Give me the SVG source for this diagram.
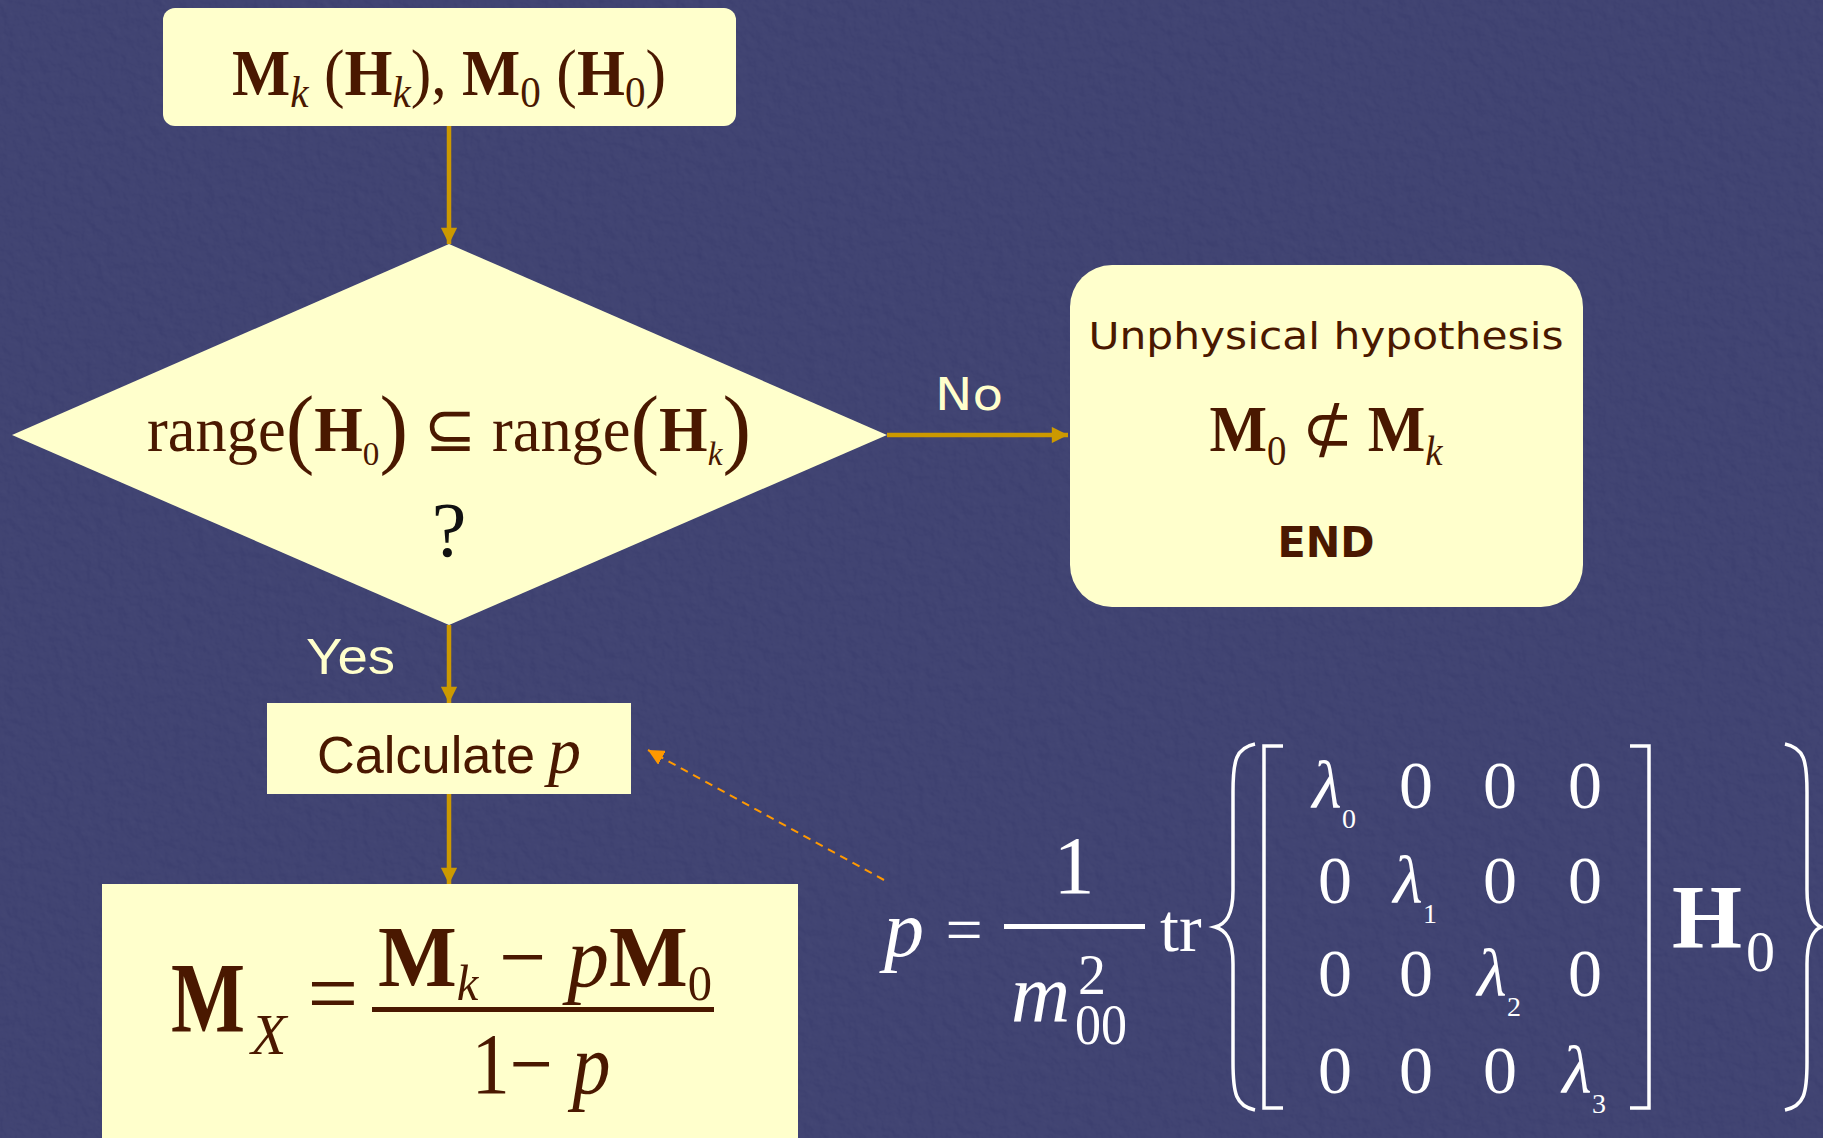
<svg xmlns="http://www.w3.org/2000/svg" width="1823" height="1138" viewBox="0 0 1823 1138">
<style>
.box{fill:#ffffcc}
.serif{font-family:"Liberation Serif","Times New Roman",serif}
.sans{font-family:"DejaVu Sans","Verdana",sans-serif}
.narrow{font-family:"Liberation Sans Narrow","Liberation Sans",Arial,sans-serif}
.ink{fill:#4a1800}
.wh{fill:#ffffff}
.cream{fill:#ffffcc}
.conn{stroke:#cc9900;stroke-width:4.5;fill:none}
.dash{stroke:#ff9900;stroke-width:2;stroke-dasharray:8 6;fill:none}
.delim{stroke:#ffffff;stroke-width:3.5;fill:none}
</style>
<defs>
<marker id="ah" viewBox="0 0 10 10" refX="10" refY="5" markerWidth="4.5" markerHeight="3.6" orient="auto" markerUnits="strokeWidth"><path d="M0,0 L10,5 L0,10 z" fill="#cc9900"/></marker>
<marker id="ah2" viewBox="0 0 10 10" refX="10" refY="5" markerWidth="8" markerHeight="8" orient="auto" markerUnits="strokeWidth"><path d="M0,0 L10,5 L0,10 z" fill="#ff9900"/></marker>
<filter id="tex" x="0" y="0" width="100%" height="100%">
<feTurbulence type="fractalNoise" baseFrequency="0.09" numOctaves="3" seed="7" result="n"/>
<feDiffuseLighting in="n" surfaceScale="1.6" lighting-color="#ffffff" result="l"><feDistantLight azimuth="135" elevation="55"/></feDiffuseLighting>
<feColorMatrix type="matrix" values="0 0 0 0 1  0 0 0 0 1  0 0 0 0 1  0.18 0 0 0 -0.08"/>
</filter>
</defs>
<rect width="1823" height="1138" fill="#3b3e6e"/>
<rect width="1823" height="1138" filter="url(#tex)" opacity="0.45"/>

<g id="connectors">
<line class="conn" x1="449" y1="126" x2="449" y2="244" marker-end="url(#ah)"/>
<line class="conn" x1="887" y1="435" x2="1068" y2="435" marker-end="url(#ah)"/>
<line class="conn" x1="449" y1="625" x2="449" y2="703" marker-end="url(#ah)"/>
<line class="conn" x1="449" y1="794" x2="449" y2="884" marker-end="url(#ah)"/>
<line class="dash" x1="884" y1="880" x2="648" y2="750" marker-end="url(#ah2)"/>
<text class="sans cream" x="969" y="410" font-size="44" text-anchor="middle" textLength="68" lengthAdjust="spacingAndGlyphs">No</text>
<text class="narrow cream" x="306" y="674" font-size="50" textLength="89" lengthAdjust="spacingAndGlyphs">Yes</text>
</g>

<g id="start">
<rect class="box" x="163" y="8" width="573" height="118" rx="12"/>
<text class="serif ink" x="449" y="95" font-size="66" text-anchor="middle" textLength="434" lengthAdjust="spacingAndGlyphs"><tspan font-weight="bold">M</tspan><tspan font-style="italic" font-size="44" dy="12">k</tspan><tspan dy="-12"> (</tspan><tspan font-weight="bold">H</tspan><tspan font-style="italic" font-size="44" dy="12">k</tspan><tspan dy="-12">), </tspan><tspan font-weight="bold">M</tspan><tspan font-size="44" dy="12">0</tspan><tspan dy="-12"> (</tspan><tspan font-weight="bold">H</tspan><tspan font-size="44" dy="12">0</tspan><tspan dy="-12">)</tspan></text>
</g>

<g id="decision">
<polygon class="box" points="449,244 887,435 449,625 12,435"/>
<text class="serif ink" x="449" y="451" font-size="64" text-anchor="middle" textLength="604" lengthAdjust="spacingAndGlyphs">range<tspan font-size="88" dy="6">(</tspan><tspan font-weight="bold" dy="-6">H</tspan><tspan font-size="34" dy="14">0</tspan><tspan dy="-8" font-size="88">)</tspan><tspan dy="-6"> ⊆ </tspan>range<tspan font-size="88" dy="6">(</tspan><tspan font-weight="bold" dy="-6">H</tspan><tspan font-size="34" font-style="italic" dy="14">k</tspan><tspan dy="-8" font-size="88">)</tspan></text>
<text class="serif" x="449" y="556" font-size="78" text-anchor="middle" fill="#111">?</text>
</g>

<g id="unphysical">
<rect class="box" x="1070" y="265" width="513" height="342" rx="42"/>
<text class="sans ink" x="1326" y="349" font-size="38" text-anchor="middle" textLength="475" lengthAdjust="spacingAndGlyphs">Unphysical hypothesis</text>
<text class="serif ink" x="1326" y="451" font-size="66" text-anchor="middle" textLength="233" lengthAdjust="spacingAndGlyphs"><tspan font-weight="bold">M</tspan><tspan font-size="42" dy="14">0</tspan><tspan dy="-14"> ⊄ </tspan><tspan font-weight="bold">M</tspan><tspan font-size="42" font-style="italic" dy="14">k</tspan></text>
<text class="sans ink" x="1326" y="557" font-size="42" font-weight="bold" text-anchor="middle" textLength="97" lengthAdjust="spacingAndGlyphs">END</text>
</g>

<g id="calculate">
<rect class="box" x="267" y="703" width="364" height="91"/>
<text class="narrow ink" x="317" y="773" font-size="52" textLength="218" lengthAdjust="spacingAndGlyphs">Calculate</text>
<text class="serif ink" x="548" y="773" font-size="66" font-style="italic">p</text>
</g>

<g id="result">
<rect class="box" x="102" y="884" width="696" height="254"/>
<text class="serif ink" x="171" y="1031" font-size="100" font-weight="bold" textLength="74" lengthAdjust="spacingAndGlyphs">M</text>
<text class="serif ink" x="251" y="1054" font-size="58" font-style="italic">X</text>
<text class="serif ink" x="333" y="1024" font-size="90" text-anchor="middle">=</text>
<rect x="372" y="1007" width="342" height="5" fill="#4a1800"/>
<text class="serif ink" x="545" y="986" font-size="86" text-anchor="middle" textLength="334" lengthAdjust="spacingAndGlyphs"><tspan font-weight="bold">M</tspan><tspan font-size="50" font-style="italic" dy="14">k</tspan><tspan dy="-14"> − </tspan><tspan font-style="italic">p</tspan><tspan font-weight="bold">M</tspan><tspan font-size="50" dy="14">0</tspan></text>
<text class="serif ink" x="541" y="1093" font-size="86" text-anchor="middle" textLength="139" lengthAdjust="spacingAndGlyphs">1− <tspan font-style="italic">p</tspan></text>
</g>

<g id="formula-p">
<text class="serif wh" x="884" y="956" font-size="80" font-style="italic">p</text>
<text class="serif wh" x="964" y="952" font-size="66" text-anchor="middle">=</text>
<rect x="1004" y="924" width="141" height="5" fill="#ffffff"/>
<text class="serif wh" x="1074" y="893" font-size="82" text-anchor="middle">1</text>
<text class="serif wh" x="1011" y="1021" font-size="82" font-style="italic">m</text>
<text class="serif wh" x="1092" y="994" font-size="56" text-anchor="middle">2</text>
<text class="serif wh" x="1101" y="1044" font-size="56" text-anchor="middle" textLength="52" lengthAdjust="spacingAndGlyphs">00</text>
<text class="serif wh" x="1160" y="951" font-size="68">tr</text>
<path class="delim" d="M1255,744 C1236,748 1233,760 1233,792 L1233,890 C1233,915 1226,924 1215,927 C1226,930 1233,939 1233,964 L1233,1062 C1233,1094 1236,1106 1255,1110"/>
<path class="delim" d="M1283,746 L1264,746 L1264,1108 L1283,1108"/>
<path class="delim" d="M1630,746 L1649,746 L1649,1108 L1630,1108"/>
<path class="delim" d="M1785,744 C1804,748 1807,760 1807,792 L1807,890 C1807,915 1814,924 1821,927 C1814,930 1807,939 1807,964 L1807,1062 C1807,1094 1804,1106 1785,1110"/>
<g class="serif wh" font-size="68" text-anchor="middle">
<text x="1327" y="808" font-style="italic">λ</text><text x="1349" y="828" font-size="28">0</text>
<text x="1416" y="808">0</text><text x="1500" y="808">0</text><text x="1585" y="808">0</text>
<text x="1335" y="903">0</text><text x="1408" y="903" font-style="italic">λ</text><text x="1430" y="923" font-size="28">1</text>
<text x="1500" y="903">0</text><text x="1585" y="903">0</text>
<text x="1335" y="996">0</text><text x="1416" y="996">0</text><text x="1492" y="996" font-style="italic">λ</text><text x="1514" y="1016" font-size="28">2</text>
<text x="1585" y="996">0</text>
<text x="1335" y="1093">0</text><text x="1416" y="1093">0</text><text x="1500" y="1093">0</text><text x="1577" y="1093" font-style="italic">λ</text><text x="1599" y="1113" font-size="28">3</text>
</g>
<text class="serif wh" x="1672" y="948" font-size="90" font-weight="bold">H</text>
<text class="serif wh" x="1746" y="971" font-size="58">0</text>
</g>
</svg>
